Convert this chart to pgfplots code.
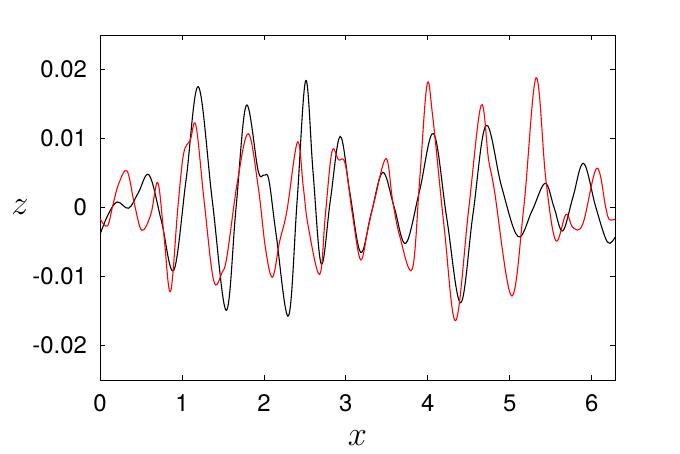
\documentclass[border=0pt]{standalone}
\usepackage{pgfplots}
\pgfplotsset{compat=1.18}
\usepackage{fontspec}
\setmainfont{TeX Gyre Heros}
\begin{document}
\begin{tikzpicture}
\begin{axis}[
  at={(0,0)}, anchor=south west,
  scale only axis, width=257.5bp, height=172.5bp,
  xmin=0, xmax=6.283185, ymin=-0.025, ymax=0.025,
  scaled x ticks=false, scaled y ticks=false,
  xtick={0,1,2,3,4,5,6}, xticklabels={0,1,2,3,4,5,6},
  ytick={-0.02,-0.01,0,0.01,0.02}, yticklabels={-0.02,-0.01,0,0.01,0.02},
  tick align=inside, major tick length=2.6bp,
  tick style={black, line width=0.4pt},
  axis line style={line width=0.5pt},
  ticklabel style={font=\fontsize{12}{14}\selectfont},
  xticklabel style={yshift=-4bp},
  yticklabel style={xshift=-3bp},
  xlabel={$x$}, ylabel={$z$},
  label style={font=\fontsize{19}{21}\selectfont, inner sep=0pt},
  xlabel style={at={(axis description cs:0.5,0)}, anchor=center, yshift=-29bp},
  ylabel style={at={(axis description cs:0,0.5)}, anchor=center, rotate=-90, xshift=-40bp},
  clip=true,
]
\addplot[black, line width=0.55pt, smooth, tension=0.6] coordinates {
(0,-0.0039)(0.10,-0.0010)(0.21,0.0008)(0.35,-0.0001)(0.47,0.0022)(0.60,0.0047)
(0.75,-0.0020)(0.90,-0.0091)(1.05,0.0040)(1.20,0.0175)(1.37,0.0010)(1.54,-0.0149)
(1.66,0.0000)(1.785,0.0148)(1.93,0.0053)(2.00,0.0047)(2.06,0.0040)(2.15,-0.0040)
(2.30,-0.0157)(2.405,0.0010)(2.51,0.0184)(2.60,0.0050)(2.70,-0.0082)(2.81,0.0010)
(2.93,0.0103)(3.05,0.0020)(3.18,-0.0065)(3.31,-0.0008)(3.45,0.0051)(3.59,0.0000)
(3.73,-0.0052)(3.90,0.0025)(4.07,0.0107)(4.23,-0.0015)(4.40,-0.0138)(4.55,-0.0010)
(4.71,0.0119)(4.90,0.0030)(5.10,-0.0042)(5.27,-0.0005)(5.43,0.0035)(5.54,0.0000)
(5.645,-0.0034)(5.77,0.0015)(5.90,0.0064)(6.05,0.0000)(6.19,-0.0050)(6.283,-0.0043)
};
\addplot[red, line width=0.55pt, smooth, tension=0.6] coordinates {
(0,-0.0016)(0.09,-0.0027)(0.16,0.0005)(0.23,0.0035)(0.33,0.0053)(0.42,0.0005)
(0.51,-0.0033)(0.62,-0.0010)(0.705,0.0036)(0.78,-0.0040)(0.86,-0.0122)(0.95,0.0000)
(1.02,0.0078)(1.10,0.0097)(1.17,0.0119)(1.27,0.0010)(1.387,-0.0106)(1.49,-0.0094)
(1.55,-0.0070)(1.68,0.0040)(1.81,0.0107)(1.93,0.0030)(2.02,-0.0060)(2.105,-0.0101)
(2.19,-0.0050)(2.28,-0.0005)(2.41,0.0095)(2.48,0.0030)(2.54,-0.0027)(2.68,-0.0097)
(2.75,-0.0010)(2.83,0.0081)(2.91,0.0069)(2.99,0.0064)(3.08,-0.0010)(3.18,-0.0076)
(3.27,-0.0030)(3.35,0.0011)(3.49,0.0071)(3.57,0.0010)(3.66,-0.0043)(3.81,-0.0089)
(3.90,0.0040)(3.99,0.0178)(4.06,0.0131)(4.20,-0.0030)(4.34,-0.0164)(4.50,0.0000)
(4.65,0.0148)(4.74,0.0070)(4.81,0.0026)(5.02,-0.0128)(5.17,0.0000)(5.32,0.0188)
(5.44,0.0040)(5.56,-0.0048)(5.685,-0.0010)(5.77,-0.0029)(5.89,-0.0024)(6.06,0.0057)
(6.17,0.0000)(6.21,-0.0017)(6.283,-0.0017)
};
\end{axis}
\pgfresetboundingbox
\path[use as bounding box] (-50bp,-37bp) rectangle (290bp,190bp);
\end{tikzpicture}
\end{document}
